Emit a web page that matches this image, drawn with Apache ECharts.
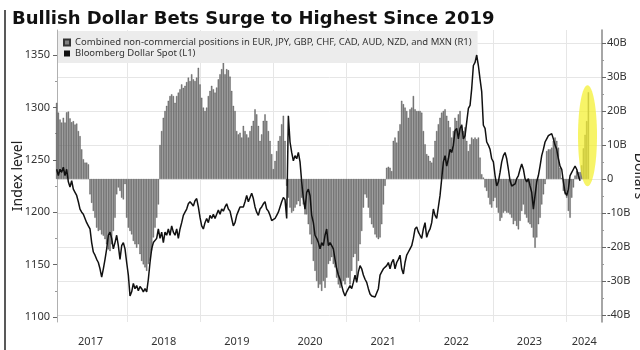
<!DOCTYPE html>
<html>
<head>
<meta charset="utf-8">
<script src="https://cdn.jsdelivr.net/npm/echarts@6/dist/echarts.min.js"></script>
<style>
html,body{margin:0;padding:0;background:#fff;}
#chart{width:640px;height:350px;}
</style>
</head>
<body>
<div id="chart"></div>
<script>
// ---- sampling of the time axis (fractional years) ----
const startYear = 2017.0365;
const stepYears = 0.022788;

// ---- tick labels ----
const yearLabels = [2017, 2018, 2019, 2020, 2021, 2022, 2023, 2024];
const yearLabelPos = [2017.5, 2018.5, 2019.5, 2020.5, 2021.5, 2022.5, 2023.5, 2024.25];
const yearBounds = [2018, 2019, 2020, 2021, 2022, 2023, 2024];
const leftTicks = [1100, 1150, 1200, 1250, 1300, 1350];
const leftMinor = [1125, 1175, 1225, 1275, 1325];
const rightTicks = [-40, -30, -20, -10, 0, 10, 20, 30, 40];
const rightMinor = [-35, -25, -15, -5, 5, 15, 25, 35];

// ---- Combined non-commercial positions (billions USD), R1 ----
const positions = [
  // 2017 - 2018
  22.4, 19.5, 17.5, 16.6, 18, 16.6, 19.6, 19.8, 17.8, 16.7, 17, 16, 16.3, 14.1, 12.6, 8.7, 5.8, 4.8, 4.8, 4.3,
  -4.5, -7, -9.4, -11.4, -14.3, -15.3, -15, -16.3, -16.7, -17.7, -19.2, -20.7, -21.2, -19.2, -15.3, -11.4, -4.5, -2.5, -3.5, -5.5,
  -6, -1.5, -11.4, -14.3, -15.3, -16.3, -18.2, -19.2, -20.2, -19.2, -22.1, -24.1, -25.1, -26, -27, -25, -24, -21, -17.2, -14.3,
  -11.4, -7.5, 10, 14.1, 18, 20, 21.5, 23, 24.4, 24.9, 24.4, 22.4, 24.4, 25.4, 26.4, 27.8, 26.8,
  // 2018 - 2020
  27.4, 28.5, 29.8, 28.8, 30.8, 29.3, 28.8, 29.8, 32.7, 27.8, 23.9, 21, 20, 21, 24.4, 25.9, 27.4, 26.4, 25.4, 26.9,
  29.3, 30.8, 32.3, 35.7, 30.8, 32.3, 32, 30.1, 25.9, 21.5, 20, 14.1, 13.1, 13.6, 12.2, 15.6, 14.1, 13.1, 12.2, 14.1,
  15.6, 17.1, 20.5, 19, 15.6, 11.2, 13.1, 17.1, 19, 17.1, 14.1, 11.2, 7.3, 2.9, 5.3, 8.2, 11.2, 12.6, 16.1, 18.6,
  11.2, -2, -5.5, -8.4, -9.9, -9.4, -8.4, -7.5, -6.5, -8, -5.5, -7.5, -10.4, -10.4, -13.3, -16.3, -19.2, -24.1, -27, -30, -32,
  // 2020 - 2022
  -31, -32.9, -30, -32, -29, -25, -24.1, -23, -25, -26, -29, -31, -32, -31, -30, -31, -29, -29, -31, -27,
  -23, -22, -29, -24.1, -19.2, -15.3, -8.4, -4.5, -5.5, -8.4, -11.4, -13.3, -14.3, -16.3, -17.2, -17.7, -17.2, -13.3, -7.5, -2,
  3.3, 3.6, 3.3, 2.3, 11.2, 12.2, 10.7, 14.1, 16.1, 23, 22, 21, 20, 18, 20.5, 21, 24.4, 20.5, 20, 20,
  20, 19.5, 14.1, 10.2, 7.3, 6.8, 5.3, 4.8, 6.3, 11.2, 14.1, 16.1, 18, 19.5, 20, 20.5, 18.6, 17.1, 15.2, 12.2, 14.1,
  // 2022 - 2024
  18, 17.1, 19, 20, 16.1, 14.1, 15.2, 11.2, 8.2, 10.2, 12.2, 11.7, 12.2, 11.7, 12.2, 6.3, 1.4, 0.4, -2.5, -3.5,
  -5.5, -7.5, -8.4, -6.5, -5.5, -8.4, -9.9, -12.3, -11.4, -9.9, -9.4, -9.9, -9.9, -10.4, -11.4, -13.3, -12.3, -13.8, -14.8, -12.3,
  -9.4, -7.5, -10.4, -11.4, -12.8, -13.3, -14.3, -17.2, -20.2, -17.2, -13.3, -11.4, -7.5, -4.5, -1.5, 8.2, 8.7, 8.7, 9.2, 11.2,
  12.2, 11.2, 9.2, 3.3, 0.3, -3.5, -4.5, -5.5, -9.4, -11.4, -5.5, -2.5, 1, 2.3, 2, 2, 4, 9, 13, 17, 25.5
];

// ---- Bloomberg Dollar Spot index, L1 ----
const dollarSpot = [
  // 2017 - 2018
  1241, 1235, 1241, 1238, 1243, 1235, 1241, 1229, 1224, 1230, 1222, 1219, 1216, 1210, 1203, 1200, 1198, 1194, 1190, 1187,
  1184, 1171, 1162, 1159, 1155, 1152, 1146, 1138, 1146, 1155, 1165, 1178, 1181, 1175, 1165, 1171, 1178, 1168, 1155, 1168,
  1171, 1165, 1152, 1140, 1120, 1124, 1132, 1127, 1130, 1125, 1129, 1127, 1124, 1127, 1124, 1136, 1152, 1165, 1171, 1171,
  1175, 1184, 1175, 1181, 1171, 1181, 1178, 1184, 1178, 1187, 1181, 1178, 1184, 1175, 1184, 1190, 1197,
  // 2018 - 2020
  1200, 1203, 1208, 1210, 1208, 1206, 1211, 1213, 1205, 1195, 1187, 1184, 1190, 1194, 1190, 1197, 1194, 1198, 1194, 1198,
  1202, 1198, 1203, 1201, 1205, 1208, 1203, 1201, 1194, 1187, 1190, 1197, 1201, 1205, 1206, 1205, 1210, 1216, 1210, 1214,
  1218, 1213, 1205, 1200, 1197, 1203, 1205, 1208, 1210, 1203, 1201, 1197, 1192, 1192, 1194, 1197, 1200, 1201, 1210, 1214,
  1212, 1194, 1292, 1267, 1257, 1249, 1254, 1251, 1257, 1248, 1229, 1213, 1203, 1219, 1222, 1216, 1197, 1190, 1178, 1175, 1171,
  // 2020 - 2022
  1165, 1171, 1168, 1178, 1184, 1168, 1171, 1168, 1165, 1155, 1146, 1140, 1136, 1130, 1124, 1120, 1124, 1127, 1130, 1127,
  1133, 1140, 1133, 1143, 1149, 1146, 1140, 1136, 1133, 1127, 1122, 1120, 1120, 1119, 1120, 1127, 1140, 1143, 1146, 1146,
  1149, 1152, 1146, 1152, 1155, 1146, 1152, 1155, 1159, 1146, 1141, 1152, 1159, 1162, 1165, 1168, 1175, 1184, 1186, 1181,
  1178, 1175, 1184, 1190, 1176, 1181, 1184, 1190, 1203, 1197, 1194, 1195, 1216, 1232, 1248, 1254, 1244, 1251, 1260, 1257, 1264,
  // 2022 - 2024
  1278, 1280, 1270, 1280, 1283, 1270, 1273, 1286, 1299, 1302, 1318, 1340, 1343, 1350, 1340, 1327, 1315, 1283, 1280, 1267,
  1264, 1260, 1251, 1248, 1235, 1225, 1229, 1238, 1248, 1254, 1257, 1251, 1241, 1230, 1225, 1224, 1227, 1232, 1235, 1241,
  1246, 1241, 1232, 1229, 1232, 1225, 1219, 1203, 1216, 1229, 1235, 1244, 1254, 1260, 1267, 1270, 1273, 1274, 1275, 1270,
  1264, 1260, 1251, 1244, 1241, 1229, 1219, 1216, 1222, 1235, 1238, 1241, 1244, 1241, 1235, 1230
];

const barName = 'Combined non-commercial positions in EUR, JPY, GBP, CHF, CAD, AUD, NZD, and MXN (R1)';
const lineName = 'Bloomberg Dollar Spot (L1)';

const tAt = i => +(startYear + i * stepYears).toFixed(5);
const barData = positions.map((v, i) => [tAt(i), v]);
const lineData = dollarSpot.map((v, i) => [tAt(i), v]);

const FONT = 'Noto Sans';
const chart = echarts.init(document.getElementById('chart'), null, {renderer: 'canvas'});

const xMin = 2017.041, xMax = 2024.492;
const lMin = 1095.2, lMax = 1373.9;
const rMin = -42.06, rMax = 43.82;

const option = {
  animation: false,
  backgroundColor: '#ffffff',
  title: {
    text: 'Bullish Dollar Bets Surge to Highest Since 2019',
    left: 7, top: 5,
    textStyle: {fontFamily: 'DejaVu Sans', fontWeight: 'bold', fontSize: 18, color: '#111'}
  },
  legend: {
    orient: 'vertical', left: 58, top: 31,
    itemWidth: 6, itemHeight: 6, itemGap: 0,
    padding: [6, 6, 4, 5],
    backgroundColor: '#ececec',
    textStyle: {fontFamily: FONT, fontSize: 9.5, color: '#333', lineHeight: 11},
    data: [{name: barName, icon: 'rect'}, {name: lineName, icon: 'rect'}]
  },
  grid: {left: 57, right: 38, top: 30, bottom: 28, outerBoundsMode: 'none', containLabel: false},
  xAxis: {
    type: 'value', min: xMin, max: xMax,
    axisLine: {show: false},
    axisTick: {show: false, customValues: yearBounds},
    splitLine: {show: true, lineStyle: {color: '#e6e6e6', width: 1}},
    axisLabel: {
      customValues: yearLabelPos, margin: 14,
      fontFamily: FONT, fontSize: 11, color: '#333',
      formatter: v => String(yearLabels[yearLabelPos.indexOf(v)])
    }
  },
  yAxis: [
    {
      type: 'value', position: 'left', min: lMin, max: lMax,
      name: 'Index level', nameLocation: 'middle', nameGap: 32, nameMoveOverlap: false,
      nameTextStyle: {fontFamily: FONT, fontSize: 14, color: '#222'},
      axisLine: {show: true, lineStyle: {color: '#b0b0b0', width: 1}},
      axisTick: {show: true, length: 4, customValues: leftTicks, lineStyle: {color: '#666'}},
      axisLabel: {customValues: leftTicks, margin: 7, fontFamily: FONT, fontSize: 11, color: '#333',
        formatter: v => String(v)},
      splitLine: {show: false}
    },
    {
      type: 'value', position: 'right', min: rMin, max: rMax,
      name: 'Dollars', nameLocation: 'middle', nameGap: 30, nameRotate: -90, nameMoveOverlap: false,
      nameTextStyle: {fontFamily: FONT, fontSize: 14, color: '#222'},
      axisLine: {show: true, lineStyle: {color: '#888', width: 1.5}},
      axisTick: {show: true, length: 4, customValues: rightTicks, lineStyle: {color: '#666'}},
      axisLabel: {customValues: rightTicks, margin: 5, fontFamily: FONT, fontSize: 11, color: '#333',
        formatter: v => v === 0 ? '0' : v + 'B'},
      splitLine: {show: true, lineStyle: {color: '#e6e6e6', width: 1}}
    },
    {
      type: 'value', position: 'left', min: lMin, max: lMax,
      axisLine: {show: false},
      axisTick: {show: true, length: 2, customValues: leftMinor, lineStyle: {color: '#999'}},
      axisLabel: {show: false},
      splitLine: {show: false}
    },
    {
      type: 'value', position: 'right', min: rMin, max: rMax,
      axisLine: {show: false},
      axisTick: {show: true, length: 2, customValues: rightMinor, lineStyle: {color: '#999'}},
      axisLabel: {show: false},
      splitLine: {show: false}
    }
  ],
  series: [
    {
      name: barName, type: 'bar', yAxisIndex: 1, data: barData,
      barWidth: 1.3, barGap: '0%',
      itemStyle: {color: '#808080', borderColor: '#333', borderWidth: 0.3},
      z: 2
    },
    {
      name: lineName, type: 'line', yAxisIndex: 0, data: lineData,
      showSymbol: false, symbol: 'none',
      lineStyle: {color: '#111', width: 1.5},
      itemStyle: {color: '#111'},
      z: 4
    }
  ]
};
chart.setOption(option);

// highlight ellipse around the latest surge, positioned from data coordinates
const lastT = tAt(positions.length - 1);
const ctr = chart.convertToPixel({xAxisIndex: 0, yAxisIndex: 1}, [lastT - 0.012, 12.75]);
const ptTop = chart.convertToPixel({xAxisIndex: 0, yAxisIndex: 1}, [lastT, 27.6]);
const ptSide = chart.convertToPixel({xAxisIndex: 0, yAxisIndex: 1}, [lastT + 0.118, 12.75]);
chart.setOption({
  graphic: [
    {
      type: 'ellipse', z: 10,
      shape: {cx: ctr[0], cy: ctr[1], rx: ptSide[0] - ctr[0], ry: ctr[1] - ptTop[1]},
      style: {fill: 'rgba(244,240,45,0.72)'}
    },
    {
      type: 'line', z: 10,
      shape: {x1: 5, y1: 10, x2: 5, y2: 350},
      style: {stroke: '#222', lineWidth: 1.5}
    }
  ]
});
</script>
</body>
</html>
